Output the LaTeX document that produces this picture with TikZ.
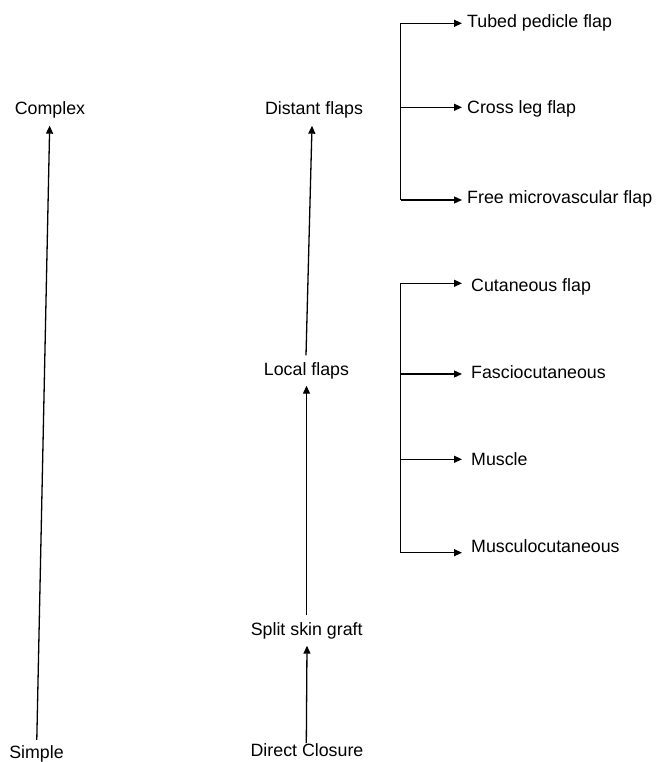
\documentclass[tikz,border=0pt]{standalone}
\usepackage{fontspec}
\setmainfont{Liberation Sans}
\usetikzlibrary{arrows.meta}
\begin{document}
\begin{tikzpicture}[x=1pt,y=-1pt,
  lbl/.style={font=\fontsize{17.8}{21}\selectfont, text height=13.4pt, text depth=4.5pt, inner sep=6pt, anchor=base},
  rtop/.style={font=\fontsize{17.8}{21}\selectfont, inner xsep=5pt, inner ysep=0pt, anchor=base west},
  rbot/.style={font=\fontsize{17.8}{21}\selectfont, inner xsep=9pt, inner ysep=0pt, anchor=base west},
  ln/.style={line width=1.3pt},
  arr/.style={line width=1.3pt, -{Triangle[length=8pt,width=7pt]}}]
\useasboundingbox (0,0) rectangle (657,762);

% left scale
\node[lbl] (complex) at (50,115) {Complex};
\node[lbl, inner sep=4.5pt] (simple) at (36.5,758) {Simple};
\draw[arr] (simple) -- (complex);

% main ladder
\node[lbl] (distant) at (314,115) {Distant flaps};
\node[lbl] (local) at (306.5,375) {Local flaps};
\node[lbl] (split) at (306.7,635) {Split skin graft};
\node[lbl] (direct) at (307,756.7) {Direct Closure};
\draw[arr] ([xshift=-0.7pt,yshift=-6pt]direct.north) -- (split.south -| direct.north);
\draw[arr] (split.north -| local.south) -- (local.south);
\draw[arr] ([xshift=-0.5pt]local.north) -- ([xshift=-2pt]distant.south);

% distant flap options
\coordinate (t1) at (400.7,23.3);
\coordinate (t2) at (400.7,107.3);
\coordinate (t3) at (400.7,200);
\node[rtop] (tubed) at (462,27.3) {Tubed pedicle flap};
\node[rtop] (cross) at (462,113.3) {Cross leg flap};
\node[rtop] (free) at (462,203.3) {Free microvascular flap};
\draw[ln] (t1) -- (t3);
\draw[arr] (t1) -- (t1 -| tubed.west);
\draw[arr] (t2) -- (t2 -| cross.west);
\draw[arr] (t3) -- (t3 -| free.west);

% local flap options
\coordinate (b1) at (400.7,283.3);
\coordinate (b2) at (400.7,374);
\coordinate (b3) at (400.7,459.3);
\coordinate (b4) at (400.7,552.7);
\node[rbot] (cut) at (462,291.7) {Cutaneous flap};
\node[rbot] (fasc) at (462,378.3) {Fasciocutaneous};
\node[rbot] (muscle) at (462,465) {Muscle};
\node[rbot] (musculo) at (462,552.7) {Musculocutaneous};
\draw[ln] (b1) -- (b4);
\draw[arr] (b1) -- (b1 -| cut.west);
\draw[arr] (b2) -- (b2 -| fasc.west);
\draw[arr] (b3) -- (b3 -| muscle.west);
\draw[arr] (b4) -- (b4 -| musculo.west);
\end{tikzpicture}
\end{document}
